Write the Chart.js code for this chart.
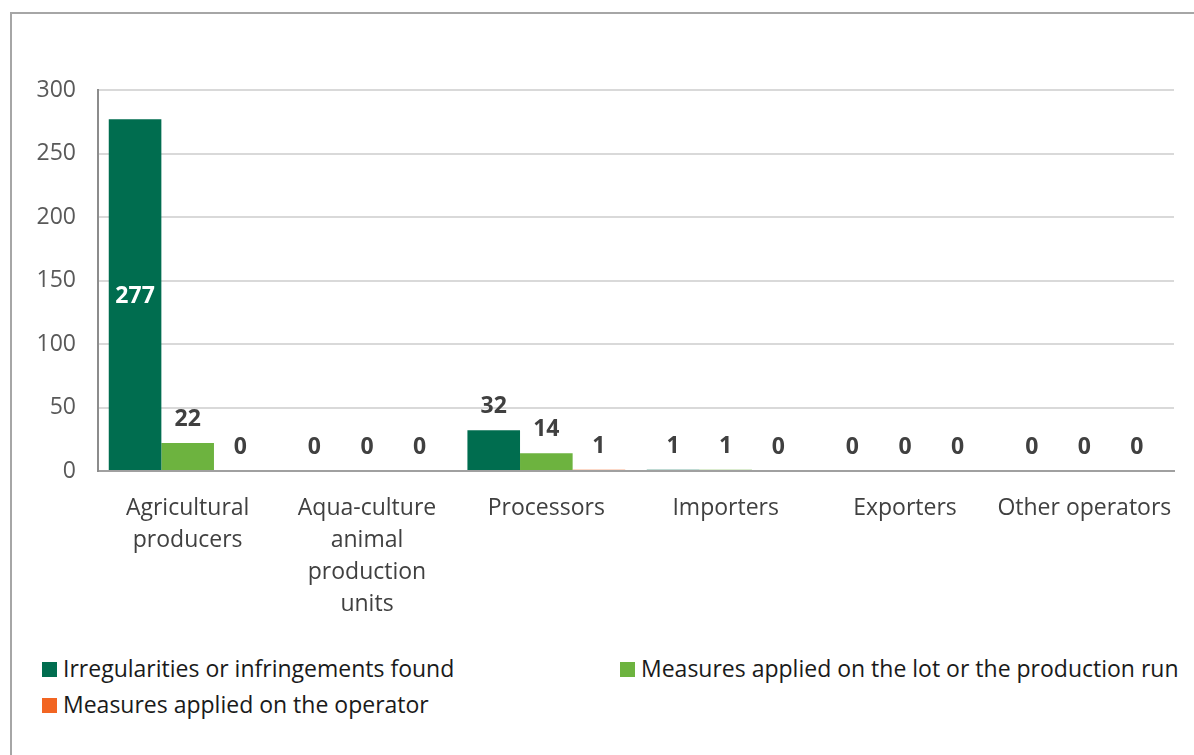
<!DOCTYPE html>
<html lang="en">
<head>
    <meta charset="UTF-8">
    <title>Controls by operator type</title>
    <script src="https://cdn.jsdelivr.net/npm/chart.js"></script>
    <style>
        body { margin: 0; background: #fff; font-family: "Open Sans", Arial, sans-serif; }
        .frame { position: absolute; left: 10px; top: 12px; width: 1200px; height: 760px;
                 border-left: 2px solid #a6a6a6; border-top: 2px solid #a6a6a6; }
        .wrap { position: absolute; left: 0; top: 0; width: 1194px; height: 640px; }
        .legend { position: absolute; left: 0; top: 652px; width: 1194px; font-size: 23px; color: #1a1a1a; }
        .item { position: absolute; white-space: nowrap; line-height: 32px; }
        .item span.box { display: inline-block; width: 15px; height: 15px; margin-right: 6px; vertical-align: 0px; }
    </style>
</head>
<body>
    <div class="frame"></div>
    <div class="wrap"><canvas id="chart" width="1194" height="640"></canvas></div>
    <div class="legend" id="legend"></div>

    <script>
        const categories = [
            ['Agricultural', 'producers'],
            ['Aqua-culture', 'animal', 'production', 'units'],
            'Processors',
            'Importers',
            'Exporters',
            'Other operators'
        ];
        const seriesNames = [
            'Irregularities or infringements found',
            'Measures applied on the lot or the production run',
            'Measures applied on the operator'
        ];
        const irregularities = [277, 0, 32, 1, 0, 0];
        const measuresLot = [22, 0, 14, 1, 0, 0];
        const measuresOperator = [0, 0, 1, 0, 0, 0];
        const colors = ['#006d4f', '#6db33f', '#f26522'];
        const FONT = '"Open Sans", Arial, sans-serif';

        // value labels drawn on top of (or inside) each bar
        const valueLabels = {
            id: 'valueLabels',
            afterDatasetsDraw(chart) {
                const ctx = chart.ctx;
                ctx.save();
                ctx.font = 'bold 23px ' + FONT;
                ctx.textAlign = 'center';
                chart.data.datasets.forEach((ds, i) => {
                    const meta = chart.getDatasetMeta(i);
                    meta.data.forEach((bar, j) => {
                        const v = ds.data[j];
                        if (v > 150) {
                            ctx.fillStyle = '#ffffff';
                            ctx.textBaseline = 'middle';
                            ctx.fillText(v, bar.x, (bar.y + bar.base) / 2 + 2);
                        } else {
                            ctx.fillStyle = '#404040';
                            ctx.textBaseline = 'bottom';
                            ctx.fillText(v, bar.x, bar.y - 12);
                        }
                    });
                });
                ctx.restore();
            }
        };

        new Chart(document.getElementById('chart'), {
            type: 'bar',
            data: {
                labels: categories,
                datasets: [
                    { label: seriesNames[0], data: irregularities, backgroundColor: colors[0] },
                    { label: seriesNames[1], data: measuresLot, backgroundColor: colors[1] },
                    { label: seriesNames[2], data: measuresOperator, backgroundColor: colors[2] }
                ]
            },
            options: {
                responsive: false,
                animation: false,
                layout: { padding: { left: 0, right: 20, top: 90, bottom: 0 } },
                datasets: { bar: { barPercentage: 1, categoryPercentage: 0.88 } },
                plugins: { legend: { display: false }, tooltip: { enabled: false } },
                scales: {
                    x: {
                        grid: { display: false },
                        border: { color: '#a0a0a0', width: 2 },
                        ticks: { color: '#404040', font: { size: 23, family: FONT, lineHeight: 1.4 }, padding: 13, maxRotation: 0, autoSkip: false },
                        afterFit: s => { s.height = 169; }
                    },
                    y: {
                        min: 0, max: 300,
                        ticks: { stepSize: 50, color: '#595959', font: { size: 23, family: FONT }, padding: 22 },
                        grid: { color: '#d9d9d9', lineWidth: 2, drawTicks: false },
                        border: { color: '#8c8c8c', width: 2 },
                        afterFit: s => { s.width = 98; }
                    }
                }
            },
            plugins: [valueLabels]
        });

        // legend laid out as in the original (two columns)
        const legendPos = [[42, 0], [620, 0], [42, 36]];
        const legend = document.getElementById('legend');
        seriesNames.forEach((name, i) => {
            const el = document.createElement('div');
            el.className = 'item';
            el.style.left = legendPos[i][0] + 'px';
            el.style.top = legendPos[i][1] + 'px';
            el.innerHTML = '<span class="box" style="background:' + colors[i] + '"></span>' + name;
            legend.appendChild(el);
        });
    </script>
</body>
</html>
